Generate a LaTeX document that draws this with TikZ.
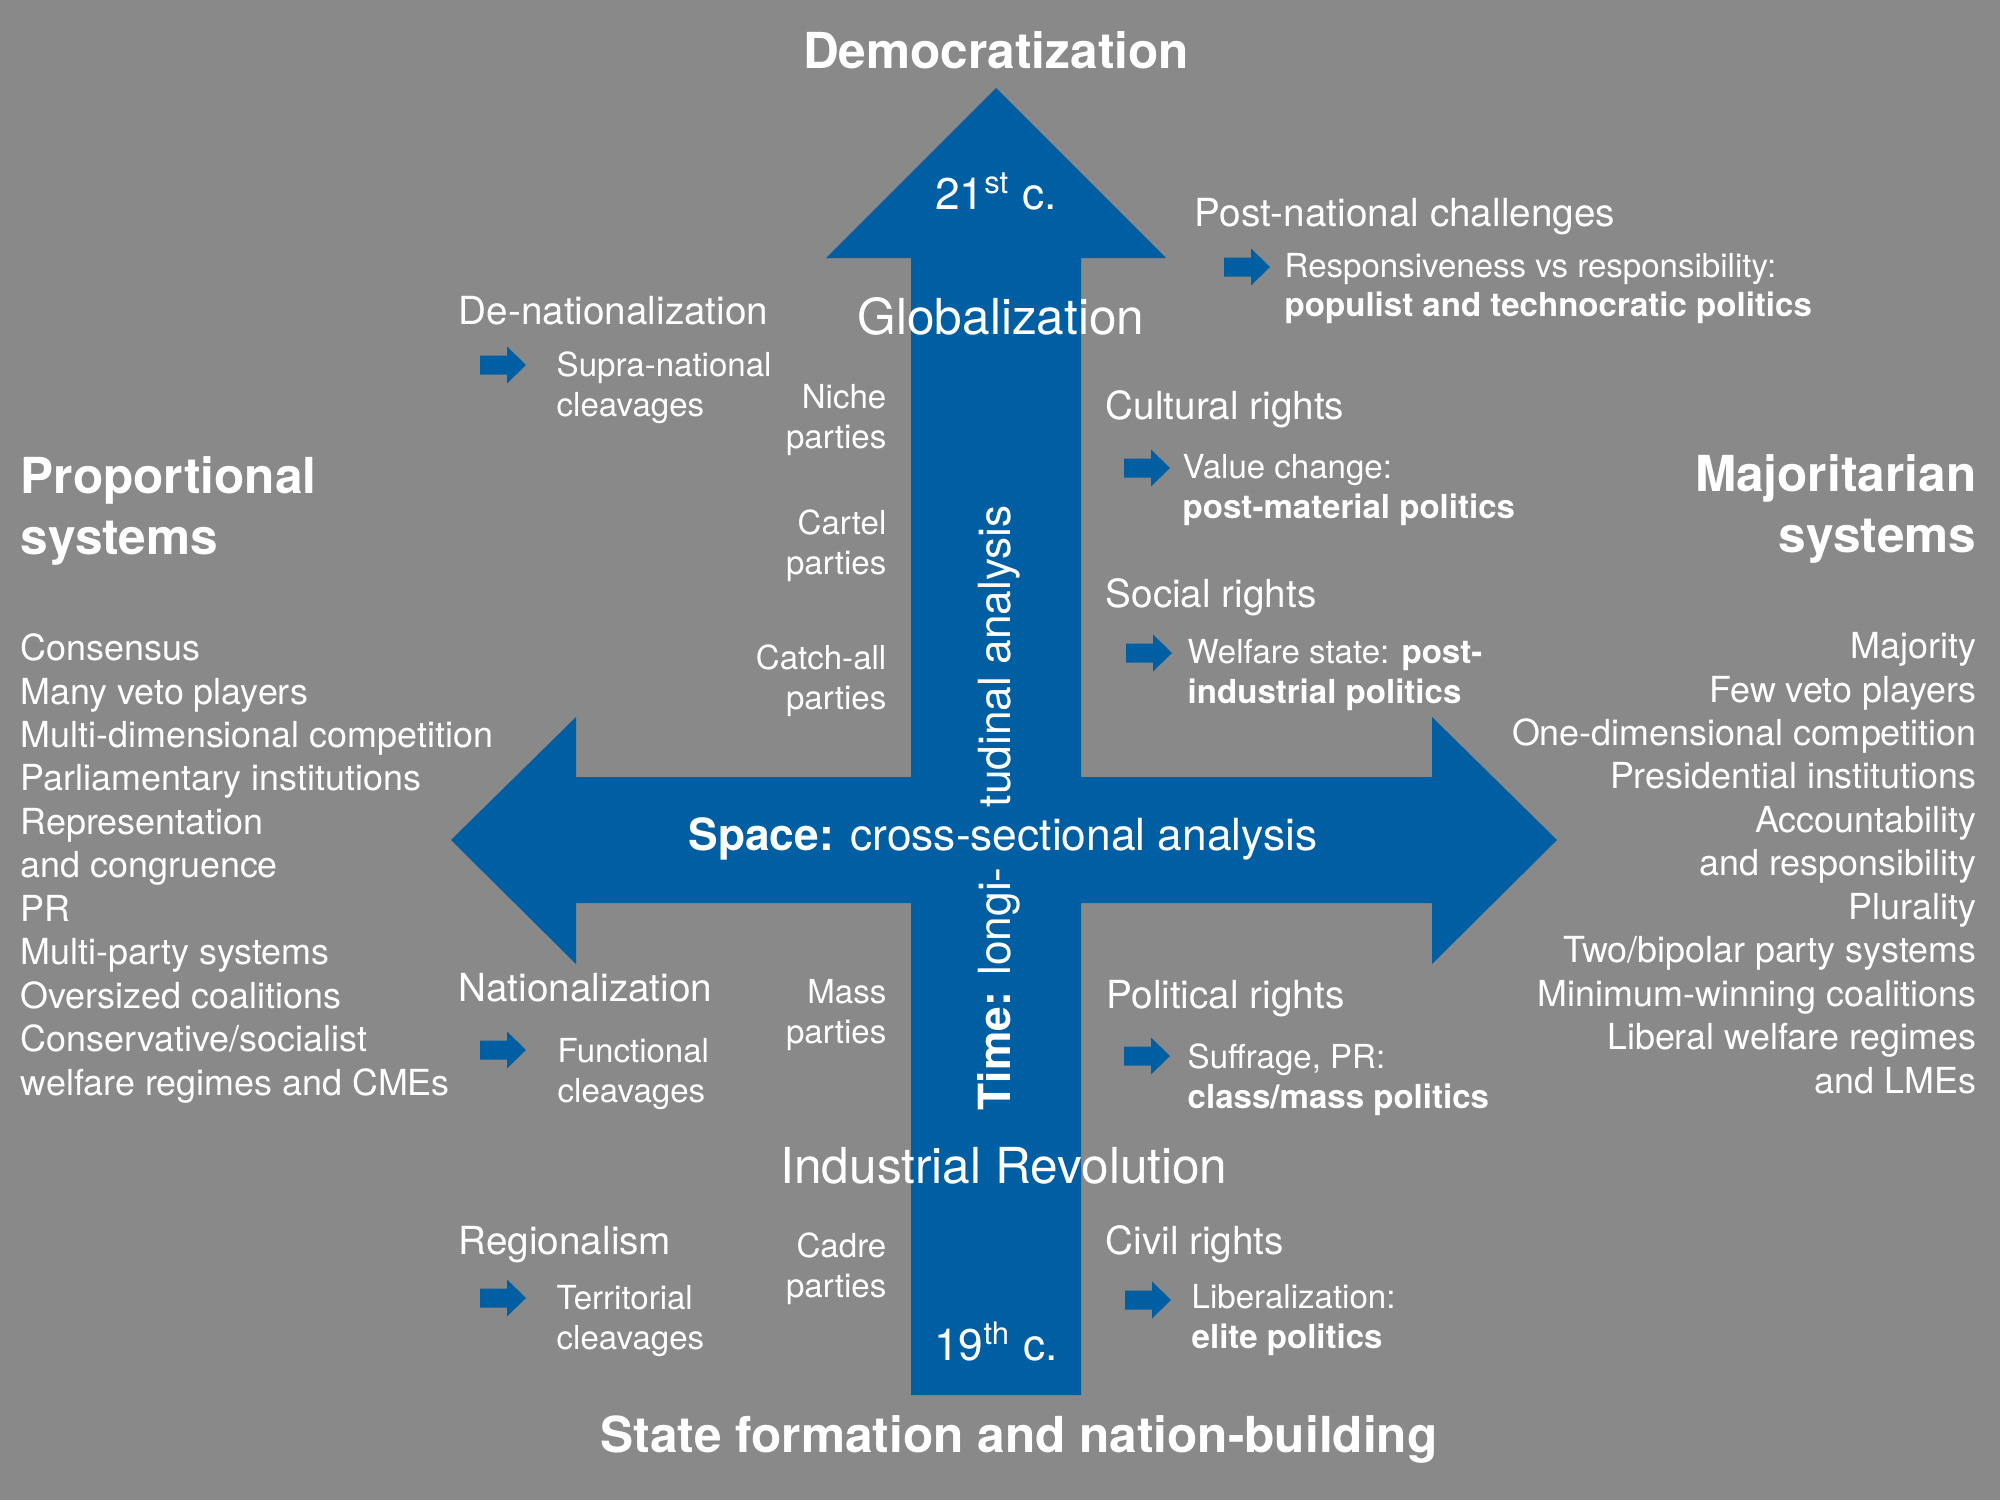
\documentclass[tikz,border=0pt]{standalone}
\usepackage{fontspec}
\setmainfont{TeX Gyre Heros}
\definecolor{bggray}{RGB}{137,137,137}
\definecolor{xblue}{RGB}{0,94,163}
\tikzset{
  every node/.style={text=white,inner sep=0pt},
  bigtitle/.style={font=\fontsize{14.1}{17.1}\selectfont\bfseries},
  era/.style={font=\fontsize{14.1}{17.1}\selectfont,anchor=base},
  axislabel/.style={font=\fontsize{12.6}{15}\selectfont},
  head/.style={font=\fontsize{11}{13.2}\selectfont,anchor=base west},
  sub/.style={font=\fontsize{9.4}{11.3}\selectfont,anchor=base west,align=left},
  party/.style={font=\fontsize{9.4}{11.3}\selectfont,anchor=base east,align=right},
  listtxt/.style={font=\fontsize{10.2}{12.35}\selectfont}
}
\begin{document}
\begin{tikzpicture}[x=0.01cm,y=-0.01cm]
\fill[bggray] (0,0) rectangle (2000,1500);
\useasboundingbox (0,0) rectangle (2000,1500);
\fill[xblue] (996,88) -- (1166,258) -- (1081,258) -- (1081,777) -- (1432,777) -- (1432,717) -- (1557,840) -- (1432,964) -- (1432,903) -- (1081,903) -- (1081,1395) -- (911,1395) -- (911,903) -- (576,903) -- (576,964) -- (451,840) -- (576,717) -- (576,777) -- (911,777) -- (911,258) -- (826,258) -- cycle;
\foreach \x/\y in {480/365,480/1050,480/1298,1224/267,1124/468,1126/653,1124/1056,1125/1300}
  \fill[xblue] ({\x},{\y-9.5}) -- ++(27,0) -- ++(0,-9) -- ++(19,18.5) -- ++(-19,18.5) -- ++(0,-9) -- ++(-27,0) -- cycle;
\node[bigtitle,anchor=base] (democ) at (996,69) {Democratization};
\node[bigtitle,anchor=base] (statef) at (1019,1452) {State formation and nation-building};
\node[bigtitle,anchor=base west,align=left] (prop) at (20,554) {Proportional\\systems};
\node[bigtitle,anchor=base east,align=right] (major) at (1977,552) {Majoritarian\\systems};
\node[axislabel,anchor=base] (c21) at (996,209) {21\textsuperscript{st} c.};
\node[axislabel,anchor=base] (c19) at (996,1360) {19\textsuperscript{th} c.};
\node[era] (glob) at (1001,334) {Globalization};
\node[era] (indrev) at (1004,1183) {Industrial Revolution};
\node[axislabel,anchor=base] (space) at (1003,850) {\textbf{Space:} cross-sectional analysis};
\node[axislabel,anchor=base west,rotate=90] (time1) at (1010,1111) {\textbf{Time:} longi-};
\node[axislabel,anchor=base west,rotate=90] (time2) at (1010,808) {tudinal analysis};
\node[listtxt,anchor=base west,align=left] (proplist) at (20,1095) {Consensus\\Many veto players\\Multi-dimensional competition\\Parliamentary institutions\\Representation\\and congruence\\PR\\Multi-party systems\\Oversized coalitions\\Conservative/socialist\\welfare regimes and CMEs};
\node[listtxt,anchor=base east,align=right] (majlist) at (1977,1093) {Majority\\Few veto players\\One-dimensional competition\\Presidential institutions\\Accountability\\and responsibility\\Plurality\\Two/bipolar party systems\\Minimum-winning coalitions\\Liberal welfare regimes\\and LMEs};
\node[party] (niche) at (887,448) {Niche\\parties};
\node[party] (cartel) at (887,574) {Cartel\\parties};
\node[party] (catchall) at (887,709) {Catch-all\\parties};
\node[party] (mass) at (887,1043) {Mass\\parties};
\node[party] (cadre) at (887,1297) {Cadre\\parties};
\node[head] (denat) at (458,324) {De-nationalization};
\node[sub] (supra) at (556,416) {Supra-national\\cleavages};
\node[head] (nat) at (458,1001) {Nationalization};
\node[sub] (func) at (557,1102) {Functional\\cleavages};
\node[head] (reg) at (458,1254) {Regionalism};
\node[sub] (terr) at (556,1349) {Territorial\\cleavages};
\node[head] (postnat) at (1194,226) {Post-national challenges};
\node[sub] (resp) at (1284,317) {Responsiveness vs responsibility:\\\textbf{populist and technocratic politics}};
\node[head] (cult) at (1105,419) {Cultural rights};
\node[sub] (value) at (1182,518) {Value change:\\\textbf{post-material politics}};
\node[head] (social) at (1105,607) {Social rights};
\node[sub] (welfare) at (1187,703) {Welfare state: \textbf{post-}\\\textbf{industrial politics}};
\node[head] (polit) at (1106,1008) {Political rights};
\node[sub] (suffrage) at (1187,1108) {Suffrage, PR:\\\textbf{class/mass politics}};
\node[head] (civil) at (1105,1254) {Civil rights};
\node[sub] (liberal) at (1191,1348) {Liberalization:\\\textbf{elite politics}};
\end{tikzpicture}
\end{document}
